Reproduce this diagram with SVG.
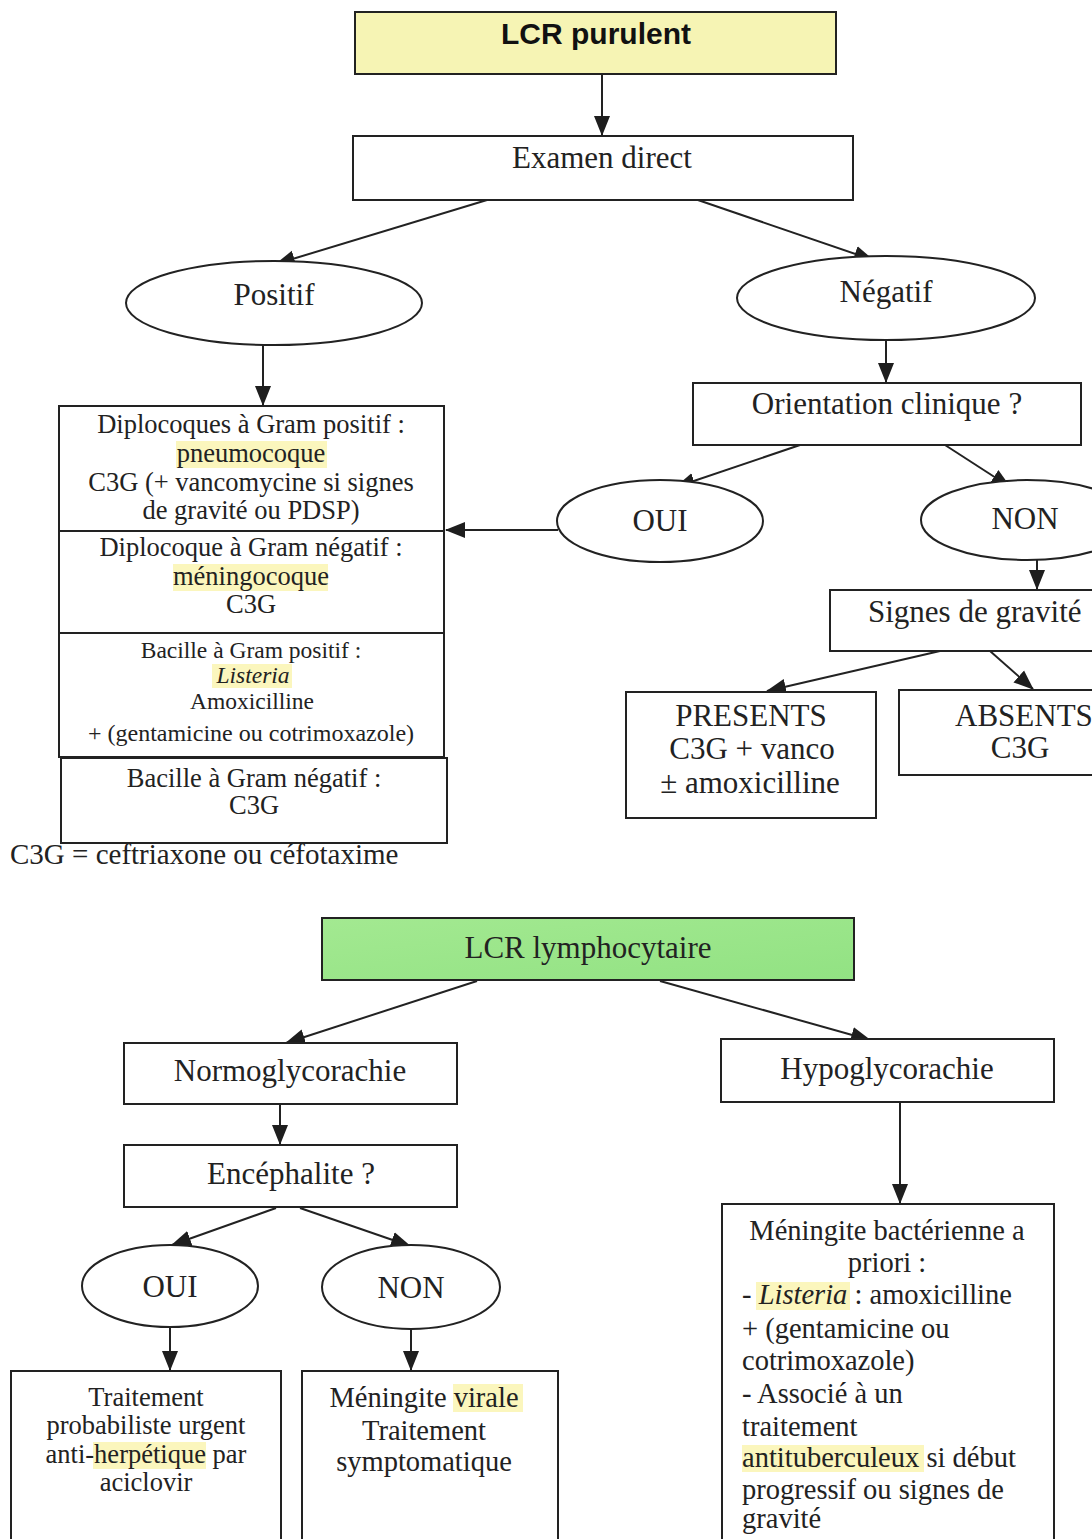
<svg xmlns="http://www.w3.org/2000/svg" width="1092" height="1539" viewBox="0 0 1092 1539">
  <defs>
    <marker id="arrow" markerUnits="userSpaceOnUse" markerWidth="20" markerHeight="18" refX="19" refY="9" orient="auto">
      <path d="M0,1 L20,9 L0,17 z" fill="#1e1e1e"/>
    </marker>
    <linearGradient id="greenFill" x1="0" y1="0" x2="1" y2="1">
      <stop offset="0" stop-color="#a3e991"/>
      <stop offset="1" stop-color="#92e283"/>
    </linearGradient>
  </defs>
  <style>
    .box { fill: #ffffff; stroke: #222; stroke-width: 2; }
    .ell { fill: #ffffff; stroke: #222; stroke-width: 2; }
    .hl { fill: #fbf6bd; }
    .t { font-family: "Liberation Serif", "Times New Roman", serif; fill: #222; text-anchor: middle; }
    .l { text-anchor: start; }
    .big { font-size: 31px; }
    .mid { font-size: 26.5px; }
    .sm { font-size: 23.5px; }
    .med { font-size: 28.5px; }
    .conn { stroke: #222; stroke-width: 2; fill: none; marker-end: url(#arrow); }
  </style>
  <rect width="1092" height="1539" fill="#ffffff"/>

  <!-- connectors -->
  <g id="connectors">
    <line class="conn" x1="602" y1="74" x2="602" y2="135"/>
    <line class="conn" x1="487" y1="200" x2="276" y2="264"/>
    <line class="conn" x1="695" y1="199" x2="873" y2="260"/>
    <line class="conn" x1="263" y1="345" x2="263" y2="405"/>
    <line class="conn" x1="886" y1="340" x2="886" y2="382"/>
    <line class="conn" x1="800" y1="445" x2="676" y2="487"/>
    <line class="conn" x1="945" y1="445" x2="1010" y2="487"/>
    <line class="conn" x1="558" y1="530" x2="446" y2="530"/>
    <line class="conn" x1="1037" y1="560" x2="1037" y2="589"/>
    <line class="conn" x1="940" y1="651" x2="767" y2="691"/>
    <line class="conn" x1="990" y1="651" x2="1033" y2="689"/>
    <line class="conn" x1="477" y1="981" x2="286" y2="1043"/>
    <line class="conn" x1="660" y1="981" x2="870" y2="1040"/>
    <line class="conn" x1="280" y1="1104" x2="280" y2="1144"/>
    <line class="conn" x1="276" y1="1208" x2="172" y2="1245"/>
    <line class="conn" x1="300" y1="1208" x2="410" y2="1246"/>
    <line class="conn" x1="170" y1="1328" x2="170" y2="1370"/>
    <line class="conn" x1="411" y1="1330" x2="411" y2="1370"/>
    <line class="conn" x1="900" y1="1102" x2="900" y2="1203"/>
  </g>

  <!-- LCR purulent -->
  <g id="lcr-purulent">
    <rect x="355" y="12" width="481" height="62" fill="#f6f4b4" stroke="#222" stroke-width="2"/>
    <text x="596" y="44" font-family="Liberation Sans, Arial, sans-serif" font-weight="bold" font-size="30" text-anchor="middle" fill="#111">LCR purulent</text>
  </g>

  <g id="examen-direct">
    <rect class="box" x="353" y="136" width="500" height="64"/>
    <text class="t big" x="602" y="168">Examen direct</text>
  </g>

  <g id="positif">
    <ellipse class="ell" cx="274" cy="303" rx="148" ry="42"/>
    <text class="t big" x="274" y="305">Positif</text>
  </g>

  <g id="negatif">
    <ellipse class="ell" cx="886" cy="298" rx="149" ry="42"/>
    <text class="t big" x="886" y="302">Négatif</text>
  </g>

  <!-- germ / treatment table -->
  <g id="germes">
    <rect class="box" x="59" y="406" width="385" height="351"/>
    <line x1="59" y1="531" x2="444" y2="531" stroke="#222" stroke-width="2"/>
    <line x1="59" y1="633" x2="444" y2="633" stroke="#222" stroke-width="2"/>
    <rect class="hl" x="176" y="441" width="151" height="27"/>
    <rect class="hl" x="173" y="564" width="155" height="27"/>
    <rect class="hl" x="212" y="664" width="80" height="24"/>
    <text class="t mid" x="251" y="433">Diplocoques à Gram positif :</text>
    <text class="t mid" x="251" y="462">pneumocoque</text>
    <text class="t mid" x="251" y="491">C3G (+ vancomycine si signes</text>
    <text class="t mid" x="251" y="519">de gravité ou PDSP)</text>
    <text class="t mid" x="251" y="556">Diplocoque à Gram négatif :</text>
    <text class="t mid" x="251" y="585">méningocoque</text>
    <text class="t mid" x="251" y="613">C3G</text>
    <text class="t sm" x="251" y="658">Bacille à Gram positif :</text>
    <text class="t sm" x="253" y="683" font-style="italic">Listeria</text>
    <text class="t sm" x="252" y="709">Amoxicilline</text>
    <text class="t" x="251" y="741" font-size="24">+ (gentamicine ou cotrimoxazole)</text>
  </g>

  <g id="bacille-gram-negatif">
    <rect class="box" x="61" y="758" width="386" height="85"/>
    <text class="t mid" x="254" y="787">Bacille à Gram négatif :</text>
    <text class="t mid" x="254" y="814">C3G</text>
  </g>

  <text class="t l" x="10" y="864" font-size="29">C3G = ceftriaxone ou céfotaxime</text>

  <g id="orientation">
    <rect class="box" x="693" y="383" width="388" height="62"/>
    <text class="t big" x="887" y="414">Orientation clinique ?</text>
  </g>

  <g id="oui-1">
    <ellipse class="ell" cx="660" cy="521" rx="103" ry="41"/>
    <text class="t big" x="660" y="531">OUI</text>
  </g>

  <g id="non-1">
    <ellipse class="ell" cx="1027" cy="520" rx="106" ry="40"/>
    <text class="t big" x="1025" y="529">NON</text>
  </g>

  <g id="signes-gravite">
    <rect class="box" x="830" y="590" width="275" height="61"/>
    <text class="t big l" x="868" y="622">Signes de gravité</text>
  </g>

  <g id="presents">
    <rect class="box" x="626" y="692" width="250" height="126"/>
    <text class="t big" x="751" y="726">PRESENTS</text>
    <text class="t big" x="752" y="759">C3G + vanco</text>
    <text class="t big" x="750" y="793">± amoxicilline</text>
  </g>

  <g id="absents">
    <rect class="box" x="899" y="690" width="210" height="85"/>
    <text class="t big l" x="955" y="726">ABSENTS</text>
    <text class="t big" x="1020" y="758">C3G</text>
  </g>

  <!-- LCR lymphocytaire -->
  <g id="lcr-lymphocytaire">
    <rect x="322" y="918" width="532" height="62" fill="url(#greenFill)" stroke="#222" stroke-width="2"/>
    <text class="t big" x="588" y="958">LCR lymphocytaire</text>
  </g>

  <g id="normoglycorachie">
    <rect class="box" x="124" y="1043" width="333" height="61"/>
    <text class="t big" x="290" y="1081">Normoglycorachie</text>
  </g>

  <g id="hypoglycorachie">
    <rect class="box" x="721" y="1039" width="333" height="63"/>
    <text class="t big" x="887" y="1079">Hypoglycorachie</text>
  </g>

  <g id="encephalite">
    <rect class="box" x="124" y="1145" width="333" height="62"/>
    <text class="t big" x="291" y="1184">Encéphalite ?</text>
  </g>

  <g id="oui-2">
    <ellipse class="ell" cx="170" cy="1286" rx="88" ry="41"/>
    <text class="t big" x="170" y="1297">OUI</text>
  </g>

  <g id="non-2">
    <ellipse class="ell" cx="411" cy="1287" rx="89" ry="42"/>
    <text class="t big" x="411" y="1298">NON</text>
  </g>

  <g id="traitement-herpes">
    <rect class="box" x="11" y="1371" width="270" height="180"/>
    <rect class="hl" x="93" y="1442" width="113" height="27"/>
    <text class="t mid" x="146" y="1406">Traitement</text>
    <text class="t mid" x="146" y="1434">probabiliste urgent</text>
    <text class="t mid" x="146" y="1463">anti-herpétique par</text>
    <text class="t mid" x="146" y="1491">aciclovir</text>
  </g>

  <g id="meningite-virale">
    <rect class="box" x="302" y="1371" width="256" height="180"/>
    <rect class="hl" x="453" y="1384" width="70" height="28"/>
    <text class="t med" x="424" y="1407">Méningite virale</text>
    <text class="t med" x="424" y="1440">Traitement</text>
    <text class="t med" x="424" y="1471">symptomatique</text>
  </g>

  <g id="meningite-bacterienne">
    <rect class="box" x="722" y="1204" width="332" height="347"/>
    <rect class="hl" x="756" y="1282" width="94" height="28"/>
    <rect class="hl" x="742" y="1445" width="182" height="27"/>
    <text class="t med" x="887" y="1240">Méningite bactérienne a</text>
    <text class="t med" x="887" y="1272">priori :</text>
    <text class="t med l" x="742" y="1304">- <tspan font-style="italic">Listeria</tspan> : amoxicilline</text>
    <text class="t med l" x="742" y="1338">+ (gentamicine ou</text>
    <text class="t med l" x="742" y="1370">cotrimoxazole)</text>
    <text class="t med l" x="742" y="1403">- Associé à un</text>
    <text class="t med l" x="742" y="1436">traitement</text>
    <text class="t med l" x="742" y="1467">antituberculeux si début</text>
    <text class="t med l" x="742" y="1499">progressif ou signes de</text>
    <text class="t med l" x="742" y="1528">gravité</text>
  </g>
</svg>
